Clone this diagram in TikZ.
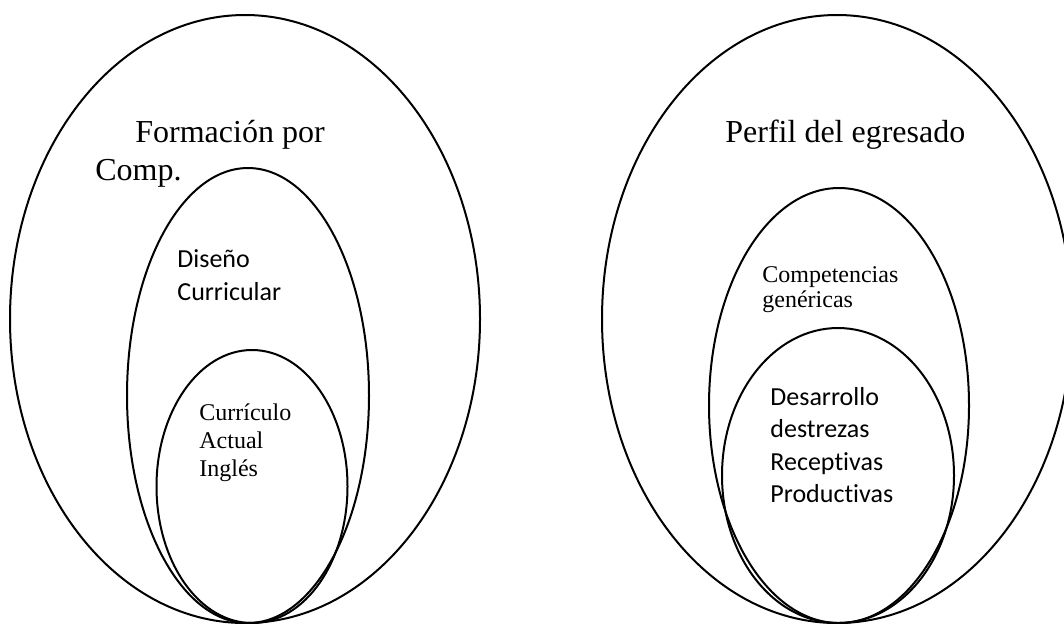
\documentclass[tikz,border=0pt]{standalone}
\usepackage{fontspec}
\setmainfont{Liberation Serif}
\newfontfamily\calib[Ligatures=NoCommon]{Carlito}
\usepackage{tikz}
\usetikzlibrary{positioning}

\tikzset{
  ring/.style={line width=1pt},
  lbl/.style={inner sep=0pt,anchor=base west},
  bigtxt/.style={lbl,font=\fontsize{16}{19}\selectfont},
  serftxt/.style={lbl,font=\fontsize{12}{14}\selectfont},
  sanstxt/.style={lbl,font=\calib\fontsize{13}{16}\selectfont}
}

\begin{document}
\begin{tikzpicture}[x=0.5pt,y=-0.5pt]
        \useasboundingbox (0,0) rectangle (1064,623);

        \draw [ring] (245,319) ellipse (235 and 304);
        \draw [ring] (248,395.5) ellipse (121 and 227.5);
        \draw [ring] (252,486.5) ellipse (95.5 and 136.5);

        \draw [ring] (837,319) ellipse (235 and 304);
        \draw [ring] (839,405.5) ellipse (130 and 217.5);
        \draw [ring] (838,475.5) ellipse (116 and 147.5);

        \node [bigtxt] (form1) at (135,142) {Formación por};
        \node [bigtxt] (form2) at (95,180) {Comp.};
        \node [sanstxt] (dis1) at (177,267) {Diseño};
        \node [sanstxt] (dis2) at (177,300) {Curricular};
        \node [serftxt] (cur1) at (199,420) {Currículo};
        \node [serftxt] (cur2) at (199,448) {Actual};
        \node [serftxt] (cur3) at (199,476) {Inglés};

        \node [bigtxt] (perf) at (725,142) {Perfil del egresado};
        \node [serftxt] (comp1) at (762,282) {Competencias};
        \node [serftxt] (comp2) at (762,307) {genéricas};
        \node [sanstxt] (des1) at (770,405) {Desarrollo};
        \node [sanstxt] (des2) at (770,437) {destrezas};
        \node [sanstxt] (des3) at (770,470) {Receptivas};
        \node [sanstxt] (des4) at (770,502) {Productivas};
      \end{tikzpicture}
\end{document}
